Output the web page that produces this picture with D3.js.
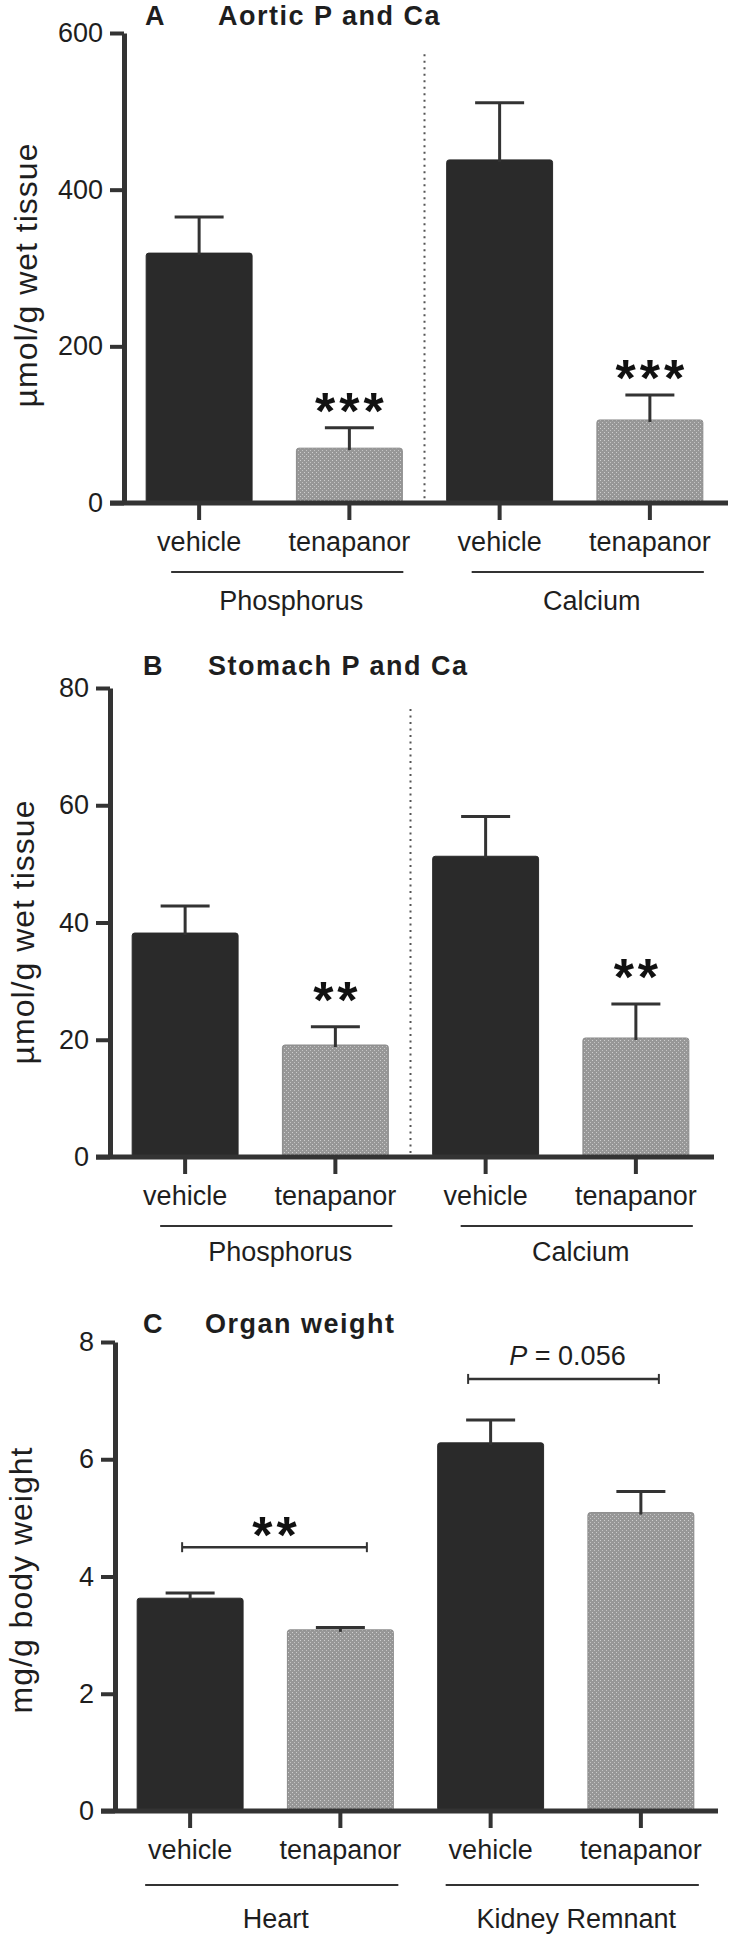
<!DOCTYPE html>
<html><head><meta charset="utf-8">
<script src="https://cdn.jsdelivr.net/npm/d3@7"></script>
<style>body{margin:0;background:#fff}svg{display:block}</style>
</head><body><svg id="c"></svg>
<script>
// ---------------- data ----------------
const categories = ["vehicle", "tenapanor", "vehicle", "tenapanor"];
const mineralGroups = ["Phosphorus", "Calcium"];
const organGroups = ["Heart", "Kidney Remnant"];
const aorticMean = [319, 70, 438, 106];
const aorticSEM = [46, 26, 73, 32];
const stomachMean = [38.2, 19.1, 51.3, 20.3];
const stomachSEM = [4.6, 3.1, 6.8, 5.8];
const organMean = [3.63, 3.09, 6.28, 5.09];
const organSEM = [0.09, 0.04, 0.39, 0.36];
const aorticTicks = [0, 200, 400, 600];
const stomachTicks = [0, 20, 40, 60, 80];
const organTicks = [0, 2, 4, 6, 8];
const aorticStars = ["", "***", "", "***"];
const stomachStars = ["", "**", "", "**"];
const organBracketFrom = [0, 2];
const organBracketTo = [1, 3];
const organBracketLevel = [4.5, 7.37];
const organBracketLabel = ["**", "P = 0.056"];

// ---------------- drawing ----------------
const W = 733, H = 1941;
const FONT = "'Liberation Sans', Arial, Helvetica, sans-serif";
const INK = "#1e1e1e", AX = "#333";
const svg = d3.select("#c").attr("width", W).attr("height", H);

const defs = svg.append("defs");
const pat = defs.append("pattern").attr("id", "stip").attr("patternUnits", "userSpaceOnUse")
  .attr("width", 4).attr("height", 4);
pat.append("rect").attr("width", 4).attr("height", 4).attr("fill", "#979797");
pat.append("rect").attr("x", 0).attr("y", 0).attr("width", 1).attr("height", 1).attr("fill", "#cfcfcf");
pat.append("rect").attr("x", 2).attr("y", 2).attr("width", 1).attr("height", 1).attr("fill", "#c4c4c4");

const panels = [
  { letter: "A", title: "Aortic P and Ca", mean: aorticMean, sem: aorticSEM, ticks: aorticTicks,
    groups: mineralGroups, stars: aorticStars, ylabel: "\u00b5mol/g wet tissue",
    axisX: 124, y0: 503, yTop: 33, xEnd: 728, letterX: 145, titleX: 218, titleBase: 25,
    ylabX: 37, ylabY: 275, starGap: 27.5, lineDy: 69, groupDy: 107, lineOff: [25, 1], divider: true },
  { letter: "B", title: "Stomach P and Ca", mean: stomachMean, sem: stomachSEM, ticks: stomachTicks,
    groups: mineralGroups, stars: stomachStars, ylabel: "\u00b5mol/g wet tissue",
    axisX: 110, y0: 1157, yTop: 688, xEnd: 714, letterX: 143, titleX: 208, titleBase: 675,
    ylabX: 34, ylabY: 932, starGap: 37.5, lineDy: 69, groupDy: 104, lineOff: [28, 4], divider: true },
  { letter: "C", title: "Organ weight", mean: organMean, sem: organSEM, ticks: organTicks,
    groups: organGroups, stars: null, ylabel: "mg/g body weight",
    axisX: 115, y0: 1811, yTop: 1342, xEnd: 718, letterX: 143, titleX: 205, titleBase: 1333,
    ylabX: 32, ylabY: 1580, lineDy: 74, groupDy: 117, lineOff: [8, 5], divider: false,
    brackets: true, bracketOff: [[-8, 26.5], [-22.5, 18]] }
];

panels.forEach(cfg => {
  const g = svg.append("g");
  const y = d3.scaleLinear().domain([0, d3.max(cfg.ticks)]).range([cfg.y0, cfg.yTop]);
  const x = d3.scaleBand().domain(d3.range(categories.length))
    .range([cfg.axisX, cfg.axisX + 601]).paddingInner(0.295).paddingOuter(0.1475);
  const bw = x.bandwidth();
  const cx = i => x(i) + bw / 2;

  // title
  g.append("text").attr("x", cfg.letterX).attr("y", cfg.titleBase).text(cfg.letter)
    .attr("font-family", FONT).attr("font-weight", "bold").attr("font-size", 27).attr("fill", INK);
  g.append("text").attr("x", cfg.titleX).attr("y", cfg.titleBase).text(cfg.title)
    .attr("font-family", FONT).attr("font-weight", "bold").attr("font-size", 27)
    .attr("letter-spacing", 1.5).attr("fill", INK);

  // y label
  g.append("text").attr("transform", `translate(${cfg.ylabX},${cfg.ylabY}) rotate(-90)`)
    .attr("text-anchor", "middle").text(cfg.ylabel)
    .attr("font-family", FONT).attr("font-size", 32).attr("letter-spacing", 1).attr("fill", INK);

  // bars
  g.selectAll("rect.bar").data(cfg.mean).join("rect").attr("class", "bar")
    .attr("x", (d, i) => x(i)).attr("y", d => y(d))
    .attr("width", bw).attr("height", d => cfg.y0 - y(d))
    .attr("rx", 2.5)
    .attr("fill", (d, i) => i % 2 ? "url(#stip)" : "#2a2a2a")
    .attr("stroke", (d, i) => i % 2 ? "#8a8a8a" : "#2a2a2a").attr("stroke-width", 1);

  // error bars (upper)
  const eb = g.selectAll("g.eb").data(cfg.mean).join("g").attr("class", "eb");
  eb.append("line").attr("x1", (d, i) => cx(i)).attr("x2", (d, i) => cx(i))
    .attr("y1", d => y(d) + 2).attr("y2", (d, i) => y(d + cfg.sem[i]))
    .attr("stroke", AX).attr("stroke-width", 3);
  eb.append("line").attr("x1", (d, i) => cx(i) - 24.5).attr("x2", (d, i) => cx(i) + 24.5)
    .attr("y1", (d, i) => y(d + cfg.sem[i])).attr("y2", (d, i) => y(d + cfg.sem[i]))
    .attr("stroke", AX).attr("stroke-width", 3);

  // stars
  if (cfg.stars) {
    g.selectAll("text.star").data(cfg.stars).join("text").attr("class", "star")
      .attr("x", (d, i) => cx(i) + 2).attr("y", (d, i) => y(cfg.mean[i] + cfg.sem[i]) - cfg.starGap + 29)
      .attr("text-anchor", "middle").text(d => d)
      .attr("font-family", FONT).attr("font-weight", "bold").attr("font-size", 52)
      .attr("letter-spacing", 4).attr("fill", "#111");
  }

  // divider
  if (cfg.divider) {
    const dx = (x(1) + bw + x(2)) / 2;
    g.append("line").attr("x1", dx).attr("x2", dx)
      .attr("y1", y(d3.max(cfg.ticks) * 0.955)).attr("y2", cfg.y0 - 4)
      .attr("stroke", "#555").attr("stroke-width", 2).attr("stroke-dasharray", "2,4.5");
  }

  // brackets
  if (cfg.brackets) {
    organBracketLevel.forEach((lv, k) => {
      const x1 = cx(organBracketFrom[k]) + cfg.bracketOff[k][0];
      const x2 = cx(organBracketTo[k]) + cfg.bracketOff[k][1];
      const yy = y(lv);
      g.append("line").attr("x1", x1).attr("x2", x2).attr("y1", yy).attr("y2", yy)
        .attr("stroke", AX).attr("stroke-width", 2.5);
      [x1, x2].forEach(xx => g.append("line").attr("x1", xx).attr("x2", xx)
        .attr("y1", yy - 5).attr("y2", yy + 5).attr("stroke", AX).attr("stroke-width", 2));
      const mid = (x1 + x2) / 2;
      const lab = organBracketLabel[k];
      if (lab.startsWith("P")) {
        const t = g.append("text").attr("x", mid + 4).attr("y", yy - 14).attr("text-anchor", "middle")
          .attr("font-family", FONT).attr("font-size", 27).attr("fill", INK);
        t.append("tspan").attr("font-style", "italic").text("P");
        t.append("tspan").text(lab.slice(1));
      } else {
        g.append("text").attr("x", mid + 2).attr("y", yy - 23 + 29).attr("text-anchor", "middle")
          .text(lab).attr("font-family", FONT).attr("font-weight", "bold").attr("font-size", 52)
          .attr("letter-spacing", 4).attr("fill", "#111");
      }
    });
  }

  // y axis
  const ya = g.append("g").attr("transform", `translate(${cfg.axisX},0)`)
    .call(d3.axisLeft(y).tickValues(cfg.ticks).tickSize(14).tickSizeOuter(0).tickPadding(7));
  ya.select(".domain").attr("stroke", AX).attr("stroke-width", 5);
  ya.selectAll(".tick line").attr("stroke", AX).attr("stroke-width", 4);
  ya.selectAll(".tick text").attr("font-family", FONT).attr("font-size", 27).attr("fill", INK);

  // x axis baseline
  g.append("line").attr("x1", cfg.axisX - 14).attr("x2", cfg.xEnd)
    .attr("y1", cfg.y0).attr("y2", cfg.y0).attr("stroke", AX).attr("stroke-width", 5);
  const xa = g.append("g").attr("transform", `translate(0,${cfg.y0})`)
    .call(d3.axisBottom(x).tickSize(17).tickPadding(12).tickFormat(i => categories[i]));
  xa.select(".domain").remove();
  xa.selectAll(".tick line").attr("stroke", AX).attr("stroke-width", 4);
  xa.selectAll(".tick text").attr("font-family", FONT).attr("font-size", 27).attr("fill", INK);

  // group underlines and labels
  cfg.groups.forEach((gname, k) => {
    const x1 = x(2 * k) + cfg.lineOff[0];
    const x2 = x(2 * k + 1) + bw + cfg.lineOff[1];
    g.append("line").attr("x1", x1).attr("x2", x2)
      .attr("y1", cfg.y0 + cfg.lineDy).attr("y2", cfg.y0 + cfg.lineDy)
      .attr("stroke", AX).attr("stroke-width", 2);
    g.append("text").attr("x", (x1 + x2) / 2 + 4).attr("y", cfg.y0 + cfg.groupDy)
      .attr("text-anchor", "middle").text(gname)
      .attr("font-family", FONT).attr("font-size", 27).attr("fill", INK);
  });
});
</script>
</body></html>
